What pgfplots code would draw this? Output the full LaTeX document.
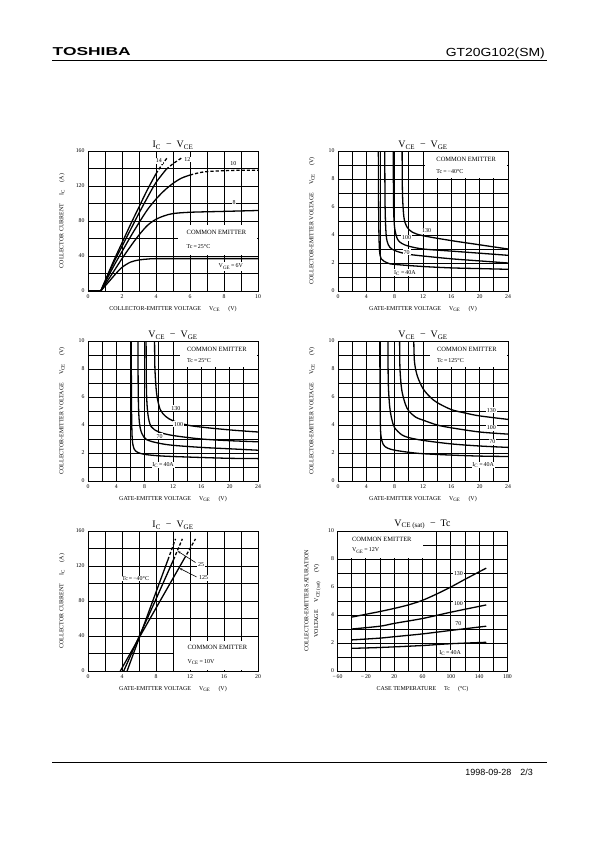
\documentclass[border=0pt]{standalone}
\usepackage{graphicx}
\usepackage{pgfplots}
\pgfplotsset{compat=1.18}
\usetikzlibrary{arrows.meta}
\usepackage{fontspec}
\setmainfont{Liberation Serif}
\newfontfamily\hsans{Liberation Sans}
\newcommand\fs[1]{\fontsize{#1}{#1}\selectfont}

\pgfplotsset{
  ds/.style={
    scale only axis, width=170bp, height=140bp, anchor=north west,
    enlargelimits=false,
    axis line style={line width=0.9bp},
    xmajorgrids=true, xminorgrids=true, ymajorgrids=true, yminorgrids=true,
    grid style={line width=0.7bp, black, solid},
    minor grid style={line width=0.7bp, black},
    major grid style={line width=0.7bp, black},
    minor x tick num=1, minor y tick num=1,
    tick align=inside,
    tick style={line width=0.7bp, black},
    tick label style={font=\fs{5.8}},
    /pgf/number format/assume math mode=true,
    cycle list={{black,no markers}},
    every axis x label/.style={at={([yshift=-19bp]axis description cs:0.5,0)}, anchor=base, font=\fs{6}},
    every axis y label/.style={at={([xshift=-26bp]axis description cs:0,0.5)}, anchor=center, rotate=90, font=\fs{6}},
    every axis title/.style={at={(axis description cs:0.5,1)}, anchor=south, inner sep=1.5bp, font=\fs{10}},
    every axis plot/.append style={line width=1.3bp, black, no markers},
  },
}
\tikzset{dsh/.style={dash pattern=on 3.2bp off 2bp},
  lab/.style={fill=white, inner sep=0.8bp, font=\fs{6}},
  wbox/.style={fill=white, draw=none, inner sep=0pt, anchor=north west}}

\begin{document}
\begin{tikzpicture}
\path[use as bounding box] (0,0) rectangle (595bp,-842bp);

% header
\node[anchor=base west, inner sep=0] at (52.5bp,-55.7bp) {\resizebox{78bp}{8bp}{\hsans\bfseries TOSHIBA}};
\node[anchor=base east, inner sep=0] at (545bp,-56.5bp) {\resizebox{99bp}{8.5bp}{\hsans GT20G102(SM)}};
\draw[line width=1bp] (52bp,-60.5bp) -- (547bp,-60.5bp);
% footer
\draw[line width=1bp] (52bp,-762bp) -- (547bp,-762bp);
\node[anchor=base east, inner sep=0, font=\hsans\fs{9}] at (533bp,-775bp) {1998-09-28\hspace{9bp}2/3};

% ---------- Plot 1: IC - VCE ----------
\begin{axis}[ds, at={(88bp,-151bp)},
  xmin=0, xmax=10, ymin=0, ymax=160,
  xtick={0,2,4,6,8,10}, ytick={0,40,80,120,160},
  title={I\textsubscript{C}\enspace−\enspace V\textsubscript{CE}},
  xlabel={COLLECTOR-EMITTER VOLTAGE\hspace{8bp}V\textsubscript{CE}\hspace{8bp}(V)},
  ylabel={COLLECTOR CURRENT\hspace{8bp}I\textsubscript{C}\hspace{8bp}(A)}]
\node[wbox, minimum width=78.5bp, minimum height=30bp] at (axis cs:5.3,76) {};
\node[anchor=west, font=\fs{6.5}] at (axis cs:5.6,67) {COMMON EMITTER};
\node[anchor=west, font=\fs{6}] at (axis cs:5.6,51) {Tc\,=\,25°C};
\addplot[black] coordinates {(0,0) (0.75,0)};
\addplot[smooth] coordinates {(0.75,0) (1.2,10) (1.6,19) (2,27) (2.5,33) (3,35.5) (3.5,36.5) (4,37) (6,37) (10,37)};
\addplot[smooth] coordinates {(0.75,0) (1.5,22) (2,37) (2.5,51) (3,64) (3.5,75) (4,82) (4.5,86) (5,88.5) (6,90) (8,91) (10,92)};
\addplot[smooth] coordinates {(0.75,0) (1.5,28) (2,45) (2.5,62) (3,78) (3.5,93) (4,105) (4.5,115) (5,123) (5.5,129) (6,132.5)};
\addplot[smooth, dsh] coordinates {(6,132.5) (6.5,135) (7,136.5) (8,137.5) (9,138) (10,138)};
\addplot[smooth] coordinates {(0.75,0) (1.5,32) (2,51) (2.5,70) (3,89) (3.5,107) (4,124) (4.6,139)};
\addplot[dsh] coordinates {(4.6,139) (5.0,145.5) (5.5,152)};
\addplot[smooth] coordinates {(0.75,0) (1.5,34) (2,55) (2.5,76) (3,96) (3.5,116) (4,134)};
\addplot[dsh] coordinates {(4,134) (4.3,143) (4.65,152)};
\node[lab] at (axis cs:4.17,148.6) {14};
\node[lab] at (axis cs:5.85,150.5) {12};
\node[lab] at (axis cs:8.55,145.6) {10};
\node[lab] at (axis cs:8.6,101.6) {8};
\node[fill=white, inner sep=2bp, font=\fs{6}] at (axis cs:8.4,28) {V\textsubscript{GE}\,=\,6V};
\end{axis}

% ---------- Plot 2: VCE - VGE, Tc=-40 ----------
\begin{axis}[ds, at={(338bp,-151bp)},
  xmin=0, xmax=24, ymin=0, ymax=10,
  xtick={0,4,8,12,16,20,24}, ytick={0,2,4,6,8,10},
  title={V\textsubscript{CE}\enspace−\enspace V\textsubscript{GE}},
  xlabel={GATE-EMITTER VOLTAGE\hspace{8bp}V\textsubscript{GE}\hspace{8bp}(V)},
  ylabel={COLLECTOR-EMITTER VOLTAGE\hspace{8bp}V\textsubscript{CE}\hspace{8bp}(V)}]
\node[wbox, minimum width=82bp, minimum height=26.5bp] at (axis cs:12.3,9.95) {};
\node[anchor=west, font=\fs{6.5}] at (axis cs:13.4,9.4) {COMMON EMITTER};
\node[anchor=west, font=\fs{6}] at (axis cs:13.4,8.5) {Tc\,=\,−40°C};
\addplot[smooth] coordinates {(5.7,10) (5.75,5) (5.85,3) (6.1,2.3) (7,2.0) (8,1.9) (12,1.75) (16,1.65) (20,1.6) (24,1.55)};
\addplot[smooth] coordinates {(6.6,10) (6.65,6) (6.8,4) (7.1,3.3) (7.6,3.0) (8.5,2.8) (10,2.62) (12,2.5) (16,2.3) (20,2.15) (24,2.0)};
\addplot[smooth] coordinates {(7.8,10) (7.85,6) (8.0,4.5) (8.4,3.7) (9,3.4) (10,3.2) (12,3.0) (16,2.85) (20,2.7) (24,2.55)};
\addplot[smooth] coordinates {(9.05,10) (9.1,7) (9.3,5.3) (9.7,4.6) (10.5,4.2) (12,3.95) (16,3.6) (20,3.3) (24,3.0)};
\node[lab] at (axis cs:12.5,4.3) {130};
\node[lab] at (axis cs:9.7,3.8) {100};
\node[lab] at (axis cs:9.7,2.77) {70};
\node[lab] at (axis cs:9.45,1.3) {I\textsubscript{C}\,=\,40A};
\end{axis}

% ---------- Plot 3: VCE - VGE, Tc=25 ----------
\begin{axis}[ds, at={(88bp,-341bp)},
  xmin=0, xmax=24, ymin=0, ymax=10,
  xtick={0,4,8,12,16,20,24}, ytick={0,2,4,6,8,10},
  title={V\textsubscript{CE}\enspace−\enspace V\textsubscript{GE}},
  xlabel={GATE-EMITTER VOLTAGE\hspace{8bp}V\textsubscript{GE}\hspace{8bp}(V)},
  ylabel={COLLECTOR-EMITTER VOLTAGE\hspace{8bp}V\textsubscript{CE}\hspace{8bp}(V)}]
\node[wbox, minimum width=77.5bp, minimum height=25bp] at (axis cs:12.9,9.95) {};
\node[anchor=west, font=\fs{6.5}] at (axis cs:13.5,9.4) {COMMON EMITTER};
\node[anchor=west, font=\fs{6}] at (axis cs:13.5,8.6) {Tc\,=\,25°C};
\addplot[smooth] coordinates {(6.1,10) (6.15,5) (6.25,3) (6.5,2.3) (7,2.05) (8,1.9) (10,1.8) (12,1.75) (16,1.68) (20,1.62) (24,1.6)};
\addplot[smooth] coordinates {(7.05,10) (7.1,6) (7.25,4.2) (7.6,3.4) (8.3,2.95) (10,2.7) (12,2.55) (16,2.4) (20,2.3) (24,2.2)};
\addplot[smooth] coordinates {(8.2,10) (8.25,6.5) (8.45,4.8) (8.9,3.9) (10,3.5) (12,3.25) (16,3.0) (20,2.88) (24,2.8)};
\addplot[smooth] coordinates {(9.4,10) (9.45,8) (9.7,6.2) (10.2,5.1) (11,4.6) (12,4.3) (14,4.0) (16,3.85) (20,3.65) (24,3.5)};
\node[lab] at (axis cs:12.4,5.2) {130};
\node[lab] at (axis cs:12.8,4.06) {100};
\node[lab] at (axis cs:10.1,3.2) {70};
\node[lab] at (axis cs:10.6,1.14) {I\textsubscript{C}\,=\,40A};
\end{axis}

% ---------- Plot 4: VCE - VGE, Tc=125 ----------
\begin{axis}[ds, at={(338bp,-341bp)},
  xmin=0, xmax=24, ymin=0, ymax=10,
  xtick={0,4,8,12,16,20,24}, ytick={0,2,4,6,8,10},
  title={V\textsubscript{CE}\enspace−\enspace V\textsubscript{GE}},
  xlabel={GATE-EMITTER VOLTAGE\hspace{8bp}V\textsubscript{GE}\hspace{8bp}(V)},
  ylabel={COLLECTOR-EMITTER VOLTAGE\hspace{8bp}V\textsubscript{CE}\hspace{8bp}(V)}]
\node[wbox, minimum width=77.5bp, minimum height=25bp] at (axis cs:12.9,9.95) {};
\node[anchor=west, font=\fs{6.5}] at (axis cs:13.5,9.4) {COMMON EMITTER};
\node[anchor=west, font=\fs{6}] at (axis cs:13.5,8.6) {Tc\,=\,125°C};
\addplot[smooth] coordinates {(5.9,10) (5.95,5) (6.05,3.3) (6.4,2.6) (7,2.35) (8,2.2) (10,2.05) (12,1.95) (16,1.85) (20,1.78) (24,1.75)};
\addplot[smooth] coordinates {(7.05,10) (7.1,7) (7.3,5.3) (7.6,4.4) (8,3.8) (9,3.3) (10,3.1) (12,2.9) (16,2.65) (20,2.5) (24,2.4)};
\addplot[smooth] coordinates {(8.7,10) (8.75,8) (9,6.5) (9.5,5.5) (10,5.0) (11,4.55) (12,4.35) (14,4.0) (16,3.8) (20,3.5) (24,3.35)};
\addplot[smooth] coordinates {(10.7,10) (10.8,8.5) (11.2,7.5) (12,6.6) (13,6.0) (14,5.6) (16,5.1) (18,4.85) (20,4.65) (24,4.4)};
\node[lab] at (axis cs:21.65,5.06) {130};
\node[lab] at (axis cs:21.65,3.8) {100};
\node[lab] at (axis cs:21.8,2.8) {70};
\node[lab] at (axis cs:20.5,1.14) {I\textsubscript{C}\,=\,40A};
\end{axis}

% ---------- Plot 5: IC - VGE ----------
\begin{axis}[ds, at={(88bp,-531bp)},
  xmin=0, xmax=20, ymin=0, ymax=160,
  xtick={0,4,8,12,16,20}, ytick={0,40,80,120,160},
  title={I\textsubscript{C}\enspace−\enspace V\textsubscript{GE}},
  xlabel={GATE-EMITTER VOLTAGE\hspace{8bp}V\textsubscript{GE}\hspace{8bp}(V)},
  ylabel={COLLECTOR CURRENT\hspace{8bp}I\textsubscript{C}\hspace{8bp}(A)}]
\node[wbox, minimum width=83.5bp, minimum height=29.5bp] at (axis cs:10.1,35) {};
\node[anchor=west, font=\fs{6.5}] at (axis cs:11.3,26.6) {COMMON EMITTER};
\node[anchor=west, font=\fs{6}] at (axis cs:11.3,10.6) {V\textsubscript{CE}\,=\,10V};
\addplot[black] coordinates {(4.6,0) (5.9,34.5) (7.35,73) (9.4,127)};
\addplot[dsh] coordinates {(9.4,127) (10.3,151)};
\addplot[black] coordinates {(4.2,0) (5.9,37) (7.9,80) (10.05,127)};
\addplot[dsh] coordinates {(10.05,127) (11.1,151)};
\addplot[black] coordinates {(3.8,0) (5.9,36) (8.3,77) (11.3,128)};
\addplot[dsh] coordinates {(11.3,128) (12.65,151)};
\node[lab] at (axis cs:5.59,105.6) {Tc\,=\,−40°C};
\draw[line width=0.6bp, -{Stealth[length=3bp,width=2bp]}] (axis cs:12.65,124) -- (axis cs:10.55,137);
\draw[line width=0.6bp, -{Stealth[length=3bp,width=2bp]}] (axis cs:12.77,107.5) -- (axis cs:10.75,117.5);
\node[lab] at (axis cs:13.3,121.7) {25};
\node[lab] at (axis cs:13.6,106.4) {125};
\end{axis}

% ---------- Plot 6: VCE(sat) - Tc ----------
\begin{axis}[ds, at={(337.5bp,-531bp)},
  xmin=-60, xmax=180, ymin=0, ymax=10,
  xtick={-60,-20,20,60,100,140,180},
  xticklabels={−\,60,−\,20,20,60,100,140,180},
  ytick={0,2,4,6,8,10},
  title={V\textsubscript{CE (sat)}\enspace−\enspace Tc},
  xlabel={CASE TEMPERATURE\hspace{8bp}Tc\hspace{8bp}(°C)},
  every axis y label/.style={at={([xshift=-25bp]axis description cs:0,0.5)}, anchor=center, rotate=90, font=\fs{6}, align=center},
  ylabel={COLLECTOR-EMITTER SATURATION\\[4bp]VOLTAGE\hspace{8bp}V\textsubscript{CE (sat)}\hspace{8bp}(V)}]
\node[wbox, minimum width=85bp, minimum height=26.5bp] at (axis cs:-59.4,9.95) {};
\node[anchor=west, font=\fs{6.5}] at (axis cs:-44.5,9.4) {COMMON EMITTER};
\node[anchor=west, font=\fs{6}] at (axis cs:-44.5,8.6) {V\textsubscript{GE}\,=\,12V};
\addplot[smooth] coordinates {(-40,3.85) (-20,4.05) (0,4.25) (20,4.47) (40,4.72) (60,5.05) (80,5.5) (100,6.0) (120,6.55) (150,7.35)};
\addplot[smooth] coordinates {(-40,3.0) (0,3.2) (20,3.4) (60,3.75) (100,4.2) (150,4.72)};
\addplot[smooth] coordinates {(-40,2.22) (0,2.35) (20,2.45) (60,2.65) (100,2.9) (150,3.2)};
\addplot[smooth] coordinates {(-40,1.62) (0,1.68) (60,1.82) (100,1.95) (150,2.05)};
\node[lab] at (axis cs:110.8,6.96) {130};
\node[lab] at (axis cs:110.8,4.82) {100};
\node[lab] at (axis cs:110.8,3.4) {70};
\node[lab] at (axis cs:99,1.26) {I\textsubscript{C}\,=\,40A};
\end{axis}
\end{tikzpicture}
\end{document}
